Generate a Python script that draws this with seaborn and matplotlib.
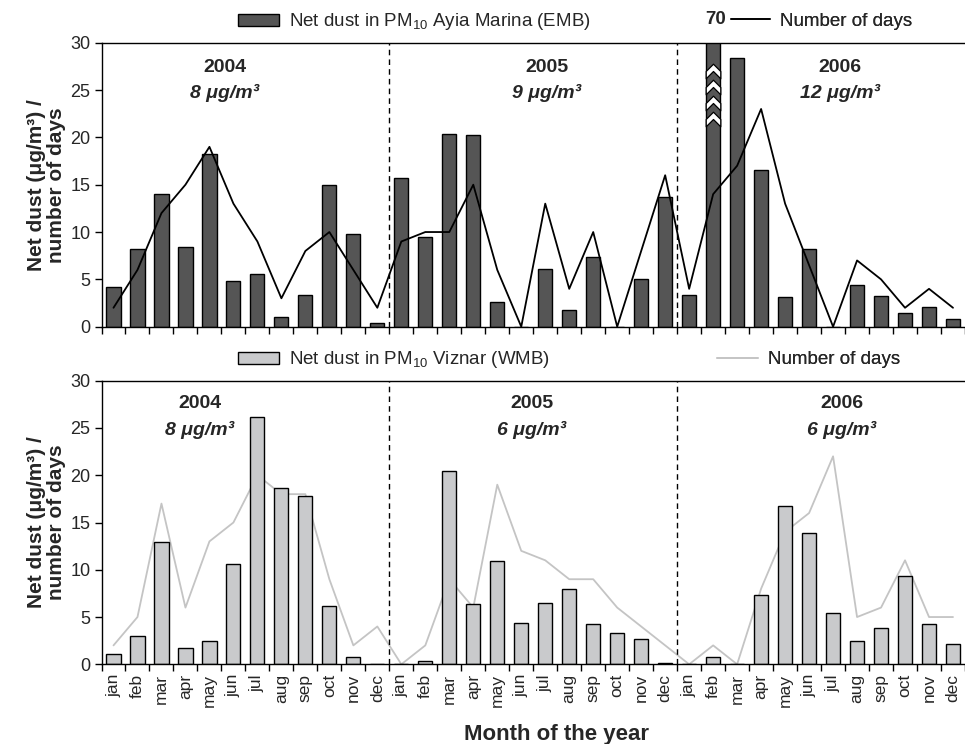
import numpy as np
import pandas as pd
import matplotlib
matplotlib.use("Agg")
import matplotlib.pyplot as plt
import seaborn as sns
from matplotlib.patches import Patch
from matplotlib.lines import Line2D
from matplotlib.path import Path

# ---------------- data ----------------
months = ["jan", "feb", "mar", "apr", "may", "jun", "jul", "aug", "sep", "oct", "nov", "dec"]
years = ["2004", "2005", "2006"]

emb_dust_2004 = [4.2, 8.2, 14.0, 8.4, 18.2, 4.8, 5.6, 1.0, 3.4, 15.0, 9.8, 0.35]
emb_dust_2005 = [15.7, 9.5, 20.4, 20.2, 2.6, 0, 6.1, 1.8, 7.4, 0, 5.0, 13.7]
emb_dust_2006 = [3.4, 70, 28.4, 16.5, 3.1, 8.2, 0, 4.4, 3.2, 1.5, 2.1, 0.8]
emb_days_2004 = [2, 6, 12, 15, 19, 13, 9, 3, 8, 10, 6, 2]
emb_days_2005 = [9, 10, 10, 15, 6, 0, 13, 4, 10, 0, 8, 16]
emb_days_2006 = [4, 14, 17, 23, 13, 6.5, 0, 7, 5, 2, 4, 2]

wmb_dust_2004 = [1.1, 3.0, 12.9, 1.7, 2.5, 10.6, 26.2, 18.6, 17.85, 6.2, 0.75, 0]
wmb_dust_2005 = [0, 0.3, 20.4, 6.4, 10.9, 4.4, 6.5, 8.0, 4.3, 3.35, 2.7, 0.1]
wmb_dust_2006 = [0, 0.75, 0, 7.3, 16.7, 13.9, 5.4, 2.5, 3.8, 9.3, 4.3, 2.2]
wmb_days_2004 = [2, 5, 17, 6, 13, 15, 20, 18, 18, 9, 2, 4]
wmb_days_2005 = [0, 2, 9, 6, 19, 12, 11, 9, 9, 6, 4, 2]
wmb_days_2006 = [0, 2, 0, 8, 14, 16, 22, 5, 6, 11, 5, 5]

emb_annual = ["8 μg/m³", "9 μg/m³", "12 μg/m³"]
wmb_annual = ["8 μg/m³", "6 μg/m³", "6 μg/m³"]
emb_peak_label = "70"

emb_label = "Net dust in PM$_{10}$ Ayia Marina (EMB)"
wmb_label = "Net dust in PM$_{10}$ Viznar (WMB)"
days_label = "Number of days"
ylabel = "Net dust (μg/m³) /\nnumber of days"
xlabel = "Month of the year"

# ---------------- style ----------------
sns.set_style("ticks")
plt.rcParams["font.family"] = ["Liberation Sans", "DejaVu Sans"]
plt.rcParams["mathtext.fontset"] = "custom"
plt.rcParams["mathtext.rm"] = "Liberation Sans"
plt.rcParams["mathtext.it"] = "Liberation Sans:italic"
plt.rcParams["mathtext.bf"] = "Liberation Sans:bold"

dark = "#555555"
light = "#c9cacc"
light_line = "#c4c4c4"

month_labels = months * 3
n = len(month_labels)
idx = np.arange(n)

df_emb = pd.DataFrame({"idx": idx,
                       "dust": emb_dust_2004 + emb_dust_2005 + emb_dust_2006,
                       "days": emb_days_2004 + emb_days_2005 + emb_days_2006})
df_wmb = pd.DataFrame({"idx": idx,
                       "dust": wmb_dust_2004 + wmb_dust_2005 + wmb_dust_2006,
                       "days": wmb_days_2004 + wmb_days_2005 + wmb_days_2006})

W, H = 965, 744
fig = plt.figure(figsize=(W / 100, H / 100), dpi=100)

def fx(px):
    return px / W

def fy(py):
    return 1 - py / H

left_px, right_px = 101.5, 965.0
ax1 = fig.add_axes([fx(left_px), fy(326.7), fx(right_px - left_px), (326.7 - 42.7) / H])
ax2 = fig.add_axes([fx(left_px), fy(664.3), fx(right_px - left_px), (664.3 - 380.7) / H])

def draw(ax, df, barcolor, linecolor, line_on_top):
    sns.barplot(data=df, x="idx", y="dust", ax=ax, color=barcolor, width=0.59,
                edgecolor="black", linewidth=1.0, saturation=1, zorder=2)
    sns.lineplot(data=df, x="idx", y="days", ax=ax, color=linecolor, linewidth=1.3,
                 zorder=3 if line_on_top else 1)
    ax.set_xlim(-0.5, n - 0.5)
    ax.set_ylim(0, 30)
    ax.set_yticks([0, 5, 10, 15, 20, 25, 30])
    ax.set_xticks(np.arange(-0.5, n, 1.0))
    ax.set_xticklabels([])
    ax.set_xticks(idx, minor=True)
    ax.tick_params(axis="x", which="major", length=5, width=1, direction="out", color="black")
    ax.tick_params(axis="x", which="minor", length=0)
    ax.tick_params(axis="y", length=5, width=1, direction="out", labelsize=13, pad=3, color="black")
    for s in ["left", "bottom", "top"]:
        ax.spines[s].set_visible(True)
        ax.spines[s].set_color("black")
        ax.spines[s].set_linewidth(1.0)
    ax.spines["right"].set_visible(False)
    for b in [11.5, 23.5]:
        ax.axvline(b, color="black", linestyle=(0, (4, 3)), linewidth=1.0, zorder=4)
    ax.set_xlabel("")
    ax.set_ylabel(ylabel, fontsize=15, fontweight="bold", linespacing=1.1, labelpad=3)
    ax.set_facecolor("white")

draw(ax1, df_emb, dark, "black", True)
draw(ax2, df_wmb, light, light_line, False)

ax2.set_xticklabels(month_labels, minor=True, rotation=90, fontsize=12.5)
ax2.tick_params(axis="x", which="minor", pad=7)
fig.text(fx(557), fy(740), xlabel, ha="center", va="baseline", fontsize=16, fontweight="bold")

# year annotations
for ax, ann, xs_px, ytop in [(ax1, emb_annual, [225, 547, 840], 67),
                             (ax2, wmb_annual, [200, 532, 842], 404)]:
    for yr, a, xp in zip(years, ann, xs_px):
        fig.text(fx(xp), fy(ytop), yr, ha="center", va="center", fontsize=14, fontweight="bold")
        fig.text(fx(xp), fy(ytop + 26), a, ha="center", va="center", fontsize=14,
                 fontweight="bold", style="italic")

# chevrons on the clipped 70 bar
chev = Path([(-1, -1), (0, 0), (1, -1), (1, 0), (0, 1), (-1, 0), (-1, -1)],
            [Path.MOVETO] + [Path.LINETO] * 5 + [Path.CLOSEPOLY])
peak_i = int(np.argmax(df_emb["dust"].values))
ax1.plot([peak_i] * 4, [21.9, 23.6, 25.3, 27.0], linestyle="none", marker=chev,
         markersize=10.5, markerfacecolor="white", markeredgecolor="black",
         markeredgewidth=0.9, zorder=5)
fig.text(fx(716), fy(20), emb_peak_label, ha="center", va="center", fontsize=13.5, fontweight="bold")

# legends
def add_leg(ax, handle, label, x_px, y_px, hl):
    leg = ax.legend(handles=[handle], labels=[label], loc="center left",
                    bbox_to_anchor=(fx(x_px), fy(y_px)), bbox_transform=fig.transFigure,
                    frameon=False, borderpad=0, borderaxespad=0, handlelength=hl,
                    handleheight=0.55, handletextpad=0.5, fontsize=13.5)
    ax.add_artist(leg)
    return leg

add_leg(ax1, Patch(facecolor=dark, edgecolor="black", linewidth=1.0), emb_label, 238, 22, 2.2)
add_leg(ax1, Line2D([], [], color="black", linewidth=1.2), days_label, 731, 21, 2.1)
add_leg(ax2, Patch(facecolor=light, edgecolor="black", linewidth=1.0), wmb_label, 238, 360, 2.2)
add_leg(ax2, Line2D([], [], color=light_line, linewidth=1.2), days_label, 717, 360, 2.2)

fig.savefig("out.png", dpi=100, facecolor="white")
